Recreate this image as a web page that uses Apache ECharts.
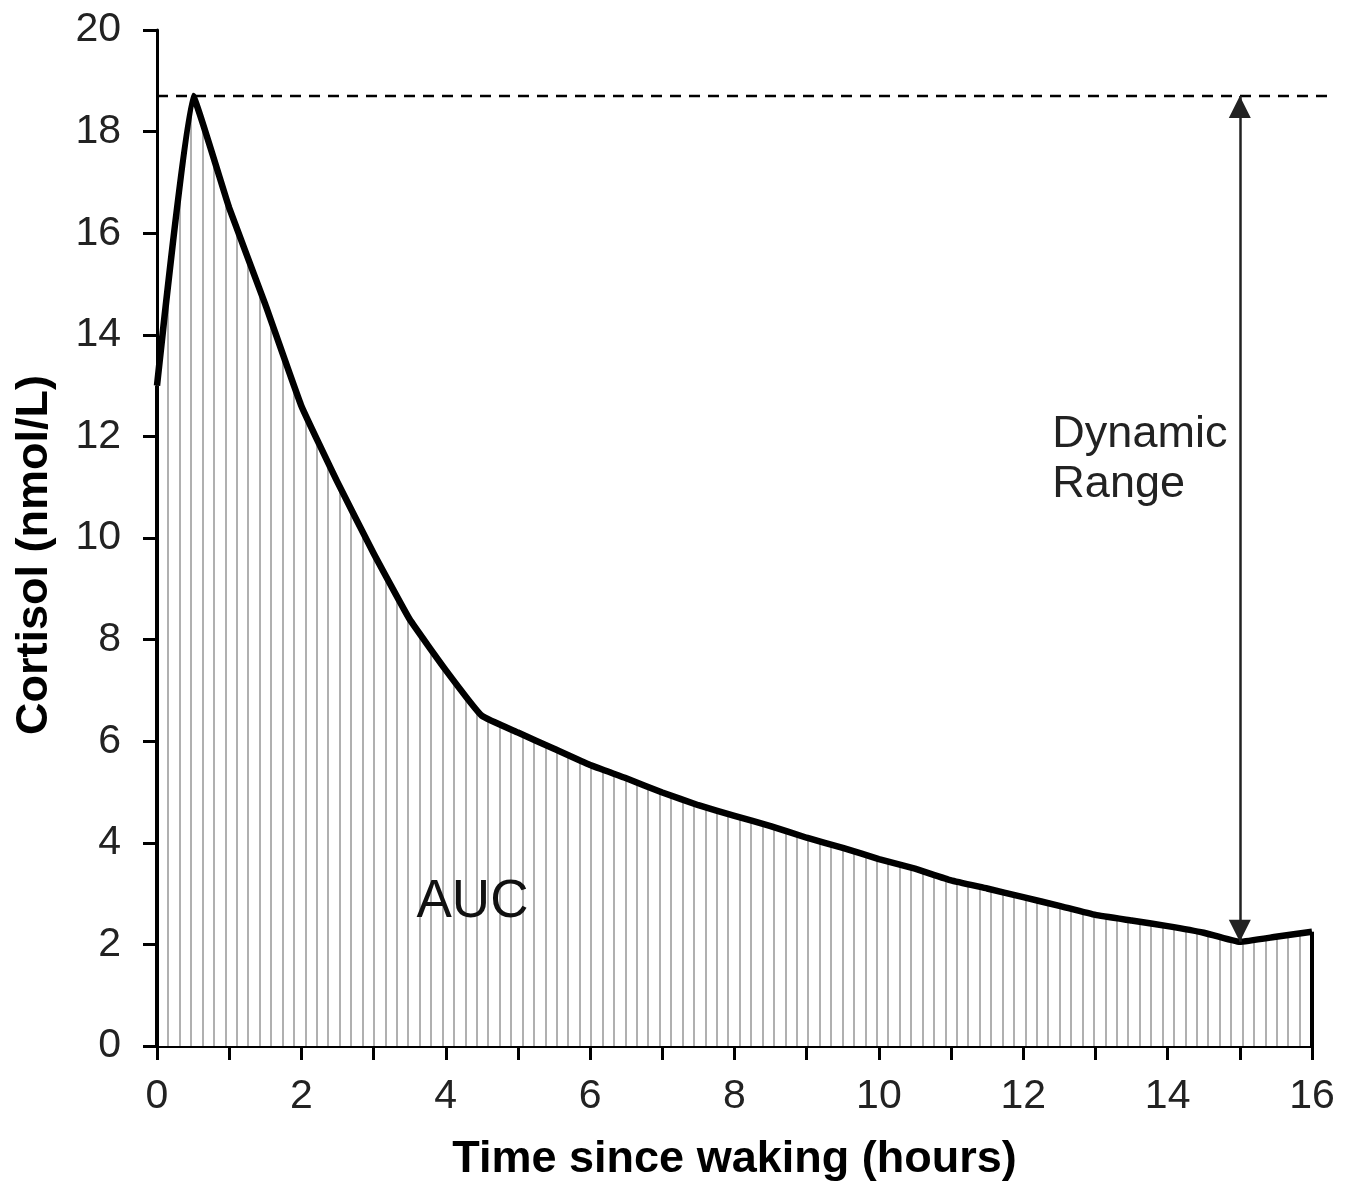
<!DOCTYPE html>
<html>
<head>
<meta charset="utf-8">
<style>html,body{margin:0;padding:0;background:#fff}#c{width:1357px;height:1184px}</style>
<script src="https://cdn.jsdelivr.net/npm/echarts@6/dist/echarts.min.js"></script>
</head>
<body>
<div id="c"></div>
<script>
// ---- data ----
const hours = [0,0.5,1,1.5,2,2.5,3,3.5,4,4.5,5,5.5,6,6.5,7,7.5,8,8.5,9,9.5,10,10.5,11,11.5,12,12.5,13,13.5,14,14.5,15,15.5,16];
const cortisol = [13.0,18.7,16.5,14.6,12.6,11.1,9.7,8.4,7.4,6.5,6.17,5.85,5.53,5.27,4.99,4.74,4.53,4.33,4.1,3.9,3.68,3.49,3.26,3.1,2.93,2.76,2.58,2.47,2.36,2.23,2.05,2.15,2.25];
const xTicks = [0,2,4,6,8,10,12,14,16];
const yTicks = [0,2,4,6,8,10,12,14,16,18,20];
const dashEndHour = 16.3;      // dashed peak line runs a little past the axis end
const rangeHour = 15;          // where the dynamic-range arrow sits
const labels = {auc: 'AUC', range: 'Dynamic\nRange', x: 'Time since waking (hours)', y: 'Cortisol (nmol/L)'};
const aucAt = [4.37, 2.83];
const rangeTextAt = [13.65, 11.55];

const points = hours.map((h, i) => [h, cortisol[i]]);
const peak = Math.max(...cortisol);
const rangeMin = cortisol[hours.indexOf(rangeHour)];
const lastH = hours[hours.length - 1], lastV = cortisol[cortisol.length - 1];

// vertical hatch pattern
function hatch() {
  const w = 80, c = document.createElement('canvas');
  c.width = w; c.height = 8;
  const ctx = c.getContext('2d');
  ctx.fillStyle = '#fff'; ctx.fillRect(0, 0, w, 8);
  ctx.fillStyle = '#b0b0b0';
  for (let i = 0; i < 7; i++) {
    const x = (77 + i * w / 7) % w;
    ctx.fillRect(Math.round(x) - 1, 0, 2, 8);
  }
  return c;
}

const FONT = '"Liberation Sans", Arial, sans-serif';
const chart = echarts.init(document.getElementById('c'));
chart.setOption({
  animation: false,
  backgroundColor: '#fff',
  grid: {left: 157, right: 45, top: 30, bottom: 138, containLabel: false, outerBoundsMode: 'none'},
  xAxis: {
    type: 'value', min: 0, max: 16, interval: 1,
    name: labels.x, nameLocation: 'middle', nameGap: 91,
    nameTextStyle: {fontFamily: FONT, fontSize: 45, fontWeight: 'bold', color: '#000'},
    axisLine: {show: true, onZero: false, lineStyle: {color: '#000', width: 3}},
    axisTick: {show: true, length: 14, lineStyle: {color: '#000', width: 3}},
    axisLabel: {margin: 30, fontFamily: FONT, fontSize: 41, color: '#222',
      formatter: v => xTicks.includes(v) ? String(v) : ''},
    splitLine: {show: false}
  },
  yAxis: {
    type: 'value', min: 0, max: 20, interval: 2,
    name: labels.y, nameLocation: 'middle', nameGap: 100, nameRotate: 90,
    nameTextStyle: {fontFamily: FONT, fontSize: 45, fontWeight: 'bold', color: '#000', padding: [0, 34, 0, 0]},
    axisLine: {show: true, onZero: false, lineStyle: {color: '#000', width: 3}},
    axisTick: {show: true, length: 14, lineStyle: {color: '#000', width: 3}},
    axisLabel: {margin: 36, fontFamily: FONT, fontSize: 41, color: '#222',
      formatter: v => yTicks.includes(v) ? String(v) : ''},
    splitLine: {show: false}
  },
  series: [
    {
      type: 'line', data: points, symbol: 'none', z: 3, smooth: 0.1,
      lineStyle: {color: '#000', width: 6.5, join: 'round'},
      areaStyle: {color: {image: hatch(), repeat: 'repeat'}, opacity: 1},
      markLine: {
        silent: true, symbol: 'none', animation: false,
        label: {show: false},
        lineStyle: {color: '#000', width: 4, type: 'solid'},
        data: [
          [{coord: [lastH, lastV]}, {coord: [lastH, 0]}],
          [{coord: [0, 0]}, {coord: [0, cortisol[0]]}]
        ]
      },
      markPoint: {
        silent: true, symbol: 'circle', symbolSize: 0,
        data: [
          {coord: aucAt, label: {show: true, formatter: labels.auc, position: 'inside',
            fontFamily: FONT, fontSize: 53, color: '#111'}},
          {coord: rangeTextAt, label: {show: true, formatter: labels.range, position: 'inside', align: 'left',
            fontFamily: FONT, fontSize: 45, lineHeight: 50, color: '#222', offset: [-90, 0]}}
        ]
      }
    },
    {
      type: 'line', data: [], symbol: 'none', z: 5,
      markLine: {
        silent: true, animation: false,
        symbol: ['triangle', 'triangle'], symbolSize: [22, 22], symbolOffset: [[0, 11], [0, 11]],
        label: {show: false},
        lineStyle: {color: '#222', width: 2.5, type: 'solid'},
        data: [[{coord: [rangeHour, peak]}, {coord: [rangeHour, rangeMin]}]]
      }
    }
  ]
});

// dashed peak line, placed through the chart's own scale (it runs past the axis end)
const p0 = chart.convertToPixel({gridIndex: 0}, [0, peak]);
const p1 = chart.convertToPixel({gridIndex: 0}, [dashEndHour, peak]);
chart.setOption({
  graphic: [{
    type: 'line', z: 4, silent: true,
    shape: {x1: p0[0], y1: p0[1], x2: p1[0], y2: p1[1]},
    style: {stroke: '#000', lineWidth: 2.5, lineDash: [11, 8]}
  }]
});
</script>
</body>
</html>
